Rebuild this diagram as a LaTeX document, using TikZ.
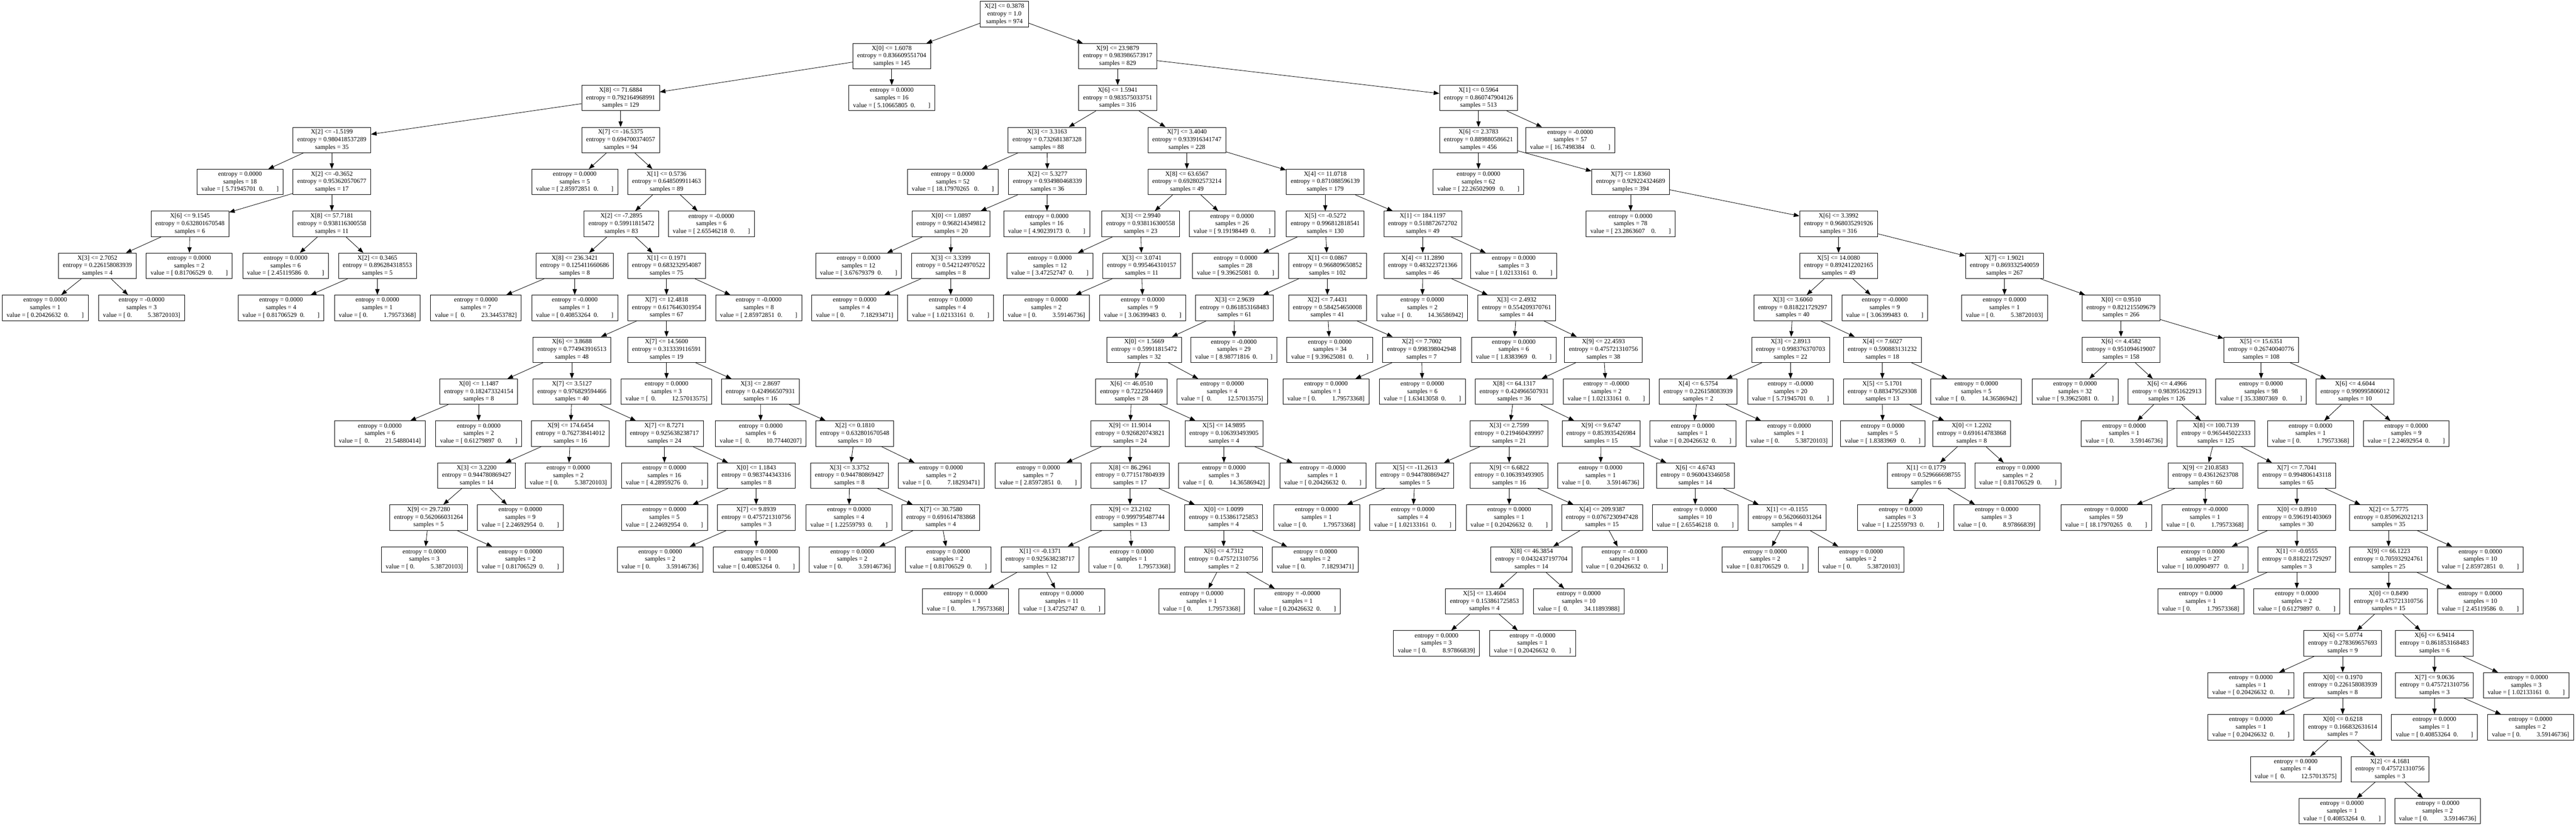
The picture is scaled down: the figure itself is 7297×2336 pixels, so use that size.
\documentclass[tikz,border=0pt]{standalone}
\usepackage{fontspec}
\setmainfont{Liberation Serif}
\usetikzlibrary{arrows.meta}
\tikzset{
  tbox/.style={draw, line width=0.3pt, rectangle, align=center,
    font=\fontsize{4.5pt}{5.35pt}\selectfont, inner xsep=3.1pt, inner ysep=1pt,
    minimum height=18pt},
  tedge/.style={line width=0.3pt, -{Triangle[length=4pt,width=3pt]}}
}
\newcommand\tnode[7]{\node[tbox] (#1) at (#2,{40+118.8*#3}) {X[#4] <= #5\\entropy = #6\\samples = #7};}
\newcommand\tleaf[6]{\node[tbox] (#1) at (#2,{40+118.8*#3}) {entropy = #4\\samples = #5\\value = #6};}
\newcommand\vza[1]{[~#1~~0.~~~~~~~~]}
\newcommand\vzb[1]{[~#1~~~0.~~~~~~~~]}
\newcommand\vzc[1]{[~#1~~~~0.~~~~~~~~]}
\newcommand\voa[1]{[~0.~~~~~~~~~~#1]}
\newcommand\vob[1]{[~~0.~~~~~~~~~~#1]}
\newcommand\tedgeto[2]{\draw[tedge] (#1) -- (#2);}
\begin{document}
\begin{tikzpicture}[x=0.25pt,y=-0.25pt]
\useasboundingbox (0,0) rectangle (7297,2336);
% level 0-5
\tnode{r}{2845}{0}{2}{0.3878}{1.0}{974}
\tnode{a}{2526}{1}{0}{1.6078}{0.836609551704}{145}
\tnode{b}{3166}{1}{9}{23.9879}{0.983986573917}{829}
\tnode{aa}{1758}{2}{8}{71.6884}{0.792164968991}{129}
\tleaf{ab}{2526}{2}{0.0000}{16}{\vza{5.10665805}}
\tnode{ba}{3166}{2}{6}{1.5941}{0.983575033751}{316}
\tnode{bb}{4188}{2}{1}{0.5964}{0.860747904126}{513}
\tnode{aaa}{940}{3}{2}{-1.5199}{0.980418537289}{35}
\tnode{aab}{1758}{3}{7}{-16.5375}{0.694700374057}{94}
\tnode{baa}{2966}{3}{3}{3.3163}{0.732681387328}{88}
\tnode{bab}{3362}{3}{7}{3.4040}{0.933916341747}{228}
\tnode{bba}{4188}{3}{6}{2.3783}{0.889880586621}{456}
\tleaf{bbb}{4448}{3}{-0.0000}{57}{\vzc{16.7498384}}
\tleaf{aaaa}{680}{4}{0.0000}{18}{\vza{5.71945701}}
\tnode{aaab}{940}{4}{2}{-0.3652}{0.953620570677}{17}
\tleaf{aaba}{1628}{4}{0.0000}{5}{\vza{2.85972851}}
\tnode{aabb}{1888}{4}{1}{0.5736}{0.648509911463}{89}
\tleaf{baaa}{2699}{4}{0.0000}{52}{\vzb{18.17970265}}
\tnode{baab}{2967}{4}{2}{5.3277}{0.934980468339}{36}
\tnode{baba}{3362}{4}{8}{63.6567}{0.692802573214}{49}
\tnode{babb}{3754}{4}{4}{11.0718}{0.871088596139}{179}
\tleaf{bbaa}{4188}{4}{0.0000}{62}{\vzb{22.26502909}}
\tnode{bbab}{4619}{4}{7}{1.8360}{0.929224324689}{394}
\tnode{aaaba}{538}{5}{6}{9.1545}{0.632801670548}{6}
\tnode{aaabb}{940}{5}{8}{57.7181}{0.938116300558}{11}
\tnode{aabba}{1760}{5}{2}{-7.2895}{0.59911815472}{83}
\tleaf{aabbb}{2015}{5}{-0.0000}{6}{\vza{2.65546218}}
\tnode{baaba}{2694}{5}{0}{1.0897}{0.968214349812}{20}
\tleaf{baabb}{2965}{5}{0.0000}{16}{\vza{4.90239173}}
\tnode{babaa}{3231}{5}{3}{2.9940}{0.938116300558}{23}
\tleaf{babab}{3490}{5}{0.0000}{26}{\vza{9.19198449}}
\tnode{babba}{3754}{5}{5}{-0.5272}{0.996812818541}{130}
\tnode{babbb}{4030}{5}{1}{184.1197}{0.518872672702}{49}
\tleaf{bbaba}{4619}{5}{0.0000}{78}{\vzc{23.2863607}}
\tnode{bbabb}{5208}{5}{6}{3.3992}{0.968035291926}{316}
% level 6
\tnode{g6a}{276}{6}{3}{2.7052}{0.226158083939}{4}
\tleaf{g6b}{536}{6}{0.0000}{2}{\vza{0.81706529}}
\tleaf{g6c}{809}{6}{0.0000}{6}{\vza{2.45119586}}
\tnode{g6d}{1069}{6}{2}{0.3465}{0.896284318553}{5}
\tnode{g6e}{1628}{6}{8}{236.3421}{0.125411660686}{8}
\tnode{g6f}{1888}{6}{1}{0.1971}{0.683232954087}{75}
\tleaf{g6g}{2432}{6}{0.0000}{12}{\vza{3.67679379}}
\tnode{g6h}{2693}{6}{3}{3.3399}{0.542124970522}{8}
\tleaf{g6i}{2974}{6}{0.0000}{12}{\vza{3.47252747}}
\tnode{g6j}{3234}{6}{3}{3.0741}{0.995464310157}{11}
\tleaf{g6k}{3500}{6}{0.0000}{28}{\vza{9.39625081}}
\tnode{g6l}{3760}{6}{1}{0.0867}{0.966809650852}{102}
\tnode{g6m}{4030}{6}{4}{11.2890}{0.483223721366}{46}
\tleaf{g6n}{4288}{6}{0.0000}{3}{\vza{1.02133161}}
\tnode{g6o}{5208}{6}{5}{14.0080}{0.892412202165}{49}
\tnode{g6p}{5678}{6}{7}{1.9021}{0.869332540059}{267}
% level 7
\tleaf{g7a}{128}{7}{0.0000}{1}{\vza{0.20426632}}
\tleaf{g7b}{401}{7}{-0.0000}{3}{\voa{5.38720103}}
\tleaf{g7c}{796}{7}{0.0000}{4}{\vza{0.81706529}}
\tleaf{g7d}{1069}{7}{0.0000}{1}{\voa{1.79573368}}
\tleaf{g7e}{1348}{7}{0.0000}{7}{\vob{23.34453782}}
\tleaf{g7f}{1628}{7}{-0.0000}{1}{\vza{0.40853264}}
\tnode{g7g}{1888}{7}{7}{12.4818}{0.617646301954}{67}
\tleaf{g7h}{2149}{7}{-0.0000}{8}{\vza{2.85972851}}
\tleaf{g7i}{2421}{7}{0.0000}{4}{\voa{7.18293471}}
\tleaf{g7j}{2693}{7}{0.0000}{4}{\vza{1.02133161}}
\tleaf{g7k}{2964}{7}{0.0000}{2}{\voa{3.59146736}}
\tleaf{g7l}{3237}{7}{0.0000}{9}{\vza{3.06399483}}
\tnode{g7m}{3497}{7}{3}{2.9639}{0.861853168483}{61}
\tnode{g7n}{3760}{7}{2}{7.4431}{0.584254650008}{41}
\tleaf{g7o}{4029}{7}{0.0000}{2}{\vob{14.36586942}}
\tnode{g7p}{4296}{7}{3}{2.4932}{0.554209370761}{44}
\tnode{g7q}{5078}{7}{3}{3.6060}{0.818221729297}{40}
\tleaf{g7r}{5339}{7}{-0.0000}{9}{\vza{3.06399483}}
\tleaf{g7s}{5678}{7}{0.0000}{1}{\voa{5.38720103}}
\tnode{g7t}{6008}{7}{0}{0.9510}{0.821215509679}{266}
% level 8
\tnode{g8a}{1620}{8}{6}{3.8688}{0.774943916513}{48}
\tnode{g8b}{1888}{8}{7}{14.5600}{0.313339116591}{19}
\tnode{g8c}{3241}{8}{0}{1.5669}{0.59911815472}{32}
\tleaf{g8d}{3495}{8}{-0.0000}{29}{\vza{8.98771816}}
\tleaf{g8e}{3767}{8}{0.0000}{34}{\vza{9.39625081}}
\tnode{g8f}{4027}{8}{2}{7.7002}{0.998398042948}{7}
\tleaf{g8g}{4288}{8}{0.0000}{6}{\vzb{1.8383969}}
\tnode{g8h}{4542}{8}{9}{22.4593}{0.475721310756}{38}
\tnode{g8i}{5072}{8}{3}{2.8913}{0.998376370703}{22}
\tnode{g8j}{5332}{8}{4}{7.6027}{0.590883131232}{18}
\tnode{g8k}{6008}{8}{6}{4.4582}{0.951094619007}{158}
\tnode{g8l}{6405}{8}{5}{15.6351}{0.26740040776}{108}
% level 9
\tnode{g9a}{1356}{9}{0}{1.1487}{0.182473324154}{8}
\tnode{g9b}{1620}{9}{7}{3.5127}{0.976829594466}{40}
\tleaf{g9c}{1888}{9}{0.0000}{3}{\vob{12.57013575}}
\tnode{g9d}{2154}{9}{3}{2.8697}{0.424966507931}{16}
\tnode{g9e}{3205}{9}{6}{46.0510}{0.7222504469}{28}
\tleaf{g9f}{3462}{9}{0.0000}{4}{\vob{12.57013575}}
\tleaf{g9g}{3756}{9}{0.0000}{1}{\voa{1.79573368}}
\tleaf{g9h}{4029}{9}{0.0000}{6}{\vza{1.63413058}}
\tnode{g9i}{4289}{9}{8}{64.1317}{0.424966507931}{36}
\tleaf{g9j}{4550}{9}{-0.0000}{2}{\vza{1.02133161}}
\tnode{g9k}{4810}{9}{4}{6.5754}{0.226158083939}{2}
\tleaf{g9l}{5072}{9}{-0.0000}{20}{\vza{5.71945701}}
\tnode{g9m}{5332}{9}{5}{5.1701}{0.883479529308}{13}
\tleaf{g9n}{5598}{9}{0.0000}{5}{\vob{14.36586942}}
\tleaf{g9o}{5878}{9}{0.0000}{32}{\vza{9.39625081}}
\tnode{g9p}{6138}{9}{6}{4.4966}{0.983951622913}{126}
\tleaf{g9q}{6405}{9}{0.0000}{98}{\vzb{35.33807369}}
\tnode{g9r}{6671}{9}{6}{4.6044}{0.990995806012}{10}
% level 10
\tleaf{g10a}{1076}{10}{0.0000}{6}{\vob{21.54880414}}
\tleaf{g10b}{1356}{10}{0.0000}{2}{\vza{0.61279897}}
\tnode{g10c}{1616}{10}{9}{174.6454}{0.762738414012}{16}
\tnode{g10d}{1882}{10}{7}{8.7271}{0.925638238717}{24}
\tleaf{g10e}{2155}{10}{0.0000}{6}{\vob{10.77440207}}
\tnode{g10f}{2421}{10}{2}{0.1810}{0.632801670548}{10}
\tnode{g10g}{3201}{10}{9}{11.9014}{0.926820743821}{24}
\tnode{g10h}{3467}{10}{5}{14.9895}{0.106393493905}{4}
\tnode{g10i}{4275}{10}{3}{2.7599}{0.219460439997}{21}
\tnode{g10j}{4535}{10}{9}{9.6747}{0.853935426984}{15}
\tleaf{g10k}{4795}{10}{0.0000}{1}{\vza{0.20426632}}
\tleaf{g10l}{5068}{10}{0.0000}{1}{\voa{5.38720103}}
\tleaf{g10m}{5333}{10}{0.0000}{5}{\vzb{1.8383969}}
\tnode{g10n}{5585}{10}{0}{1.2202}{0.691614783868}{8}
\tleaf{g10o}{6017}{10}{0.0000}{1}{\voa{3.59146736}}
\tnode{g10p}{6277}{10}{8}{100.7139}{0.965445022333}{125}
\tleaf{g10q}{6545}{10}{0.0000}{1}{\voa{1.79573368}}
\tleaf{g10r}{6816}{10}{0.0000}{9}{\vza{2.24692954}}
% level 11
\tnode{g11a}{1350}{11}{3}{3.2200}{0.944780869427}{14}
\tleaf{g11b}{1610}{11}{0.0000}{2}{\voa{5.38720103}}
\tleaf{g11c}{1882}{11}{0.0000}{16}{\vza{4.28959276}}
\tnode{g11d}{2142}{11}{0}{1.1843}{0.983744343316}{8}
\tnode{g11e}{2406}{11}{3}{3.3752}{0.944780869427}{8}
\tleaf{g11f}{2666}{11}{0.0000}{2}{\voa{7.18293471}}
\tleaf{g11g}{2941}{11}{0.0000}{7}{\vza{2.85972851}}
\tnode{g11h}{3201}{11}{8}{86.2961}{0.771517804939}{17}
\tleaf{g11i}{3467}{11}{0.0000}{3}{\vob{14.36586942}}
\tleaf{g11j}{3747}{11}{-0.0000}{1}{\vza{0.20426632}}
\tnode{g11k}{4008}{11}{5}{-11.2613}{0.944780869427}{5}
\tnode{g11l}{4275}{11}{9}{6.6822}{0.106393493905}{16}
\tleaf{g11m}{4534}{11}{0.0000}{1}{\voa{3.59146736}}
\tnode{g11n}{4802}{11}{6}{4.6743}{0.960043346058}{14}
\tnode{g11o}{5456}{11}{1}{0.1779}{0.529666698755}{6}
\tleaf{g11p}{5716}{11}{0.0000}{2}{\vza{0.81706529}}
\tnode{g11q}{6247}{11}{9}{210.8583}{0.43612623708}{60}
\tnode{g11r}{6506}{11}{7}{7.7041}{0.994806143118}{65}
% level 12
\tnode{g12a}{1214}{12}{9}{29.7280}{0.562066031264}{5}
\tleaf{g12b}{1474}{12}{0.0000}{9}{\vza{2.24692954}}
\tleaf{g12c}{1882}{12}{0.0000}{5}{\vza{2.24692954}}
\tnode{g12d}{2142}{12}{7}{9.8939}{0.475721310756}{3}
\tleaf{g12e}{2405}{12}{0.0000}{4}{\vza{1.22559793}}
\tnode{g12f}{2665}{12}{7}{30.7580}{0.691614783868}{4}
\tnode{g12g}{3201}{12}{9}{23.2102}{0.999795487744}{13}
\tnode{g12h}{3466}{12}{0}{1.0099}{0.153861725853}{4}
\tleaf{g12i}{3730}{12}{0.0000}{1}{\voa{1.79573368}}
\tleaf{g12j}{4002}{12}{0.0000}{4}{\vza{1.02133161}}
\tleaf{g12k}{4275}{12}{0.0000}{1}{\vza{0.20426632}}
\tnode{g12l}{4538}{12}{4}{209.9387}{0.0767230947428}{15}
\tleaf{g12m}{4802}{12}{0.0000}{10}{\vza{2.65546218}}
\tnode{g12n}{5062}{12}{1}{-0.1155}{0.562066031264}{4}
\tleaf{g12o}{5384}{12}{0.0000}{3}{\vza{1.22559793}}
\tleaf{g12p}{5656}{12}{0.0000}{3}{\voa{8.97866839}}
\tleaf{g12q}{5966}{12}{0.0000}{59}{\vzb{18.17970265}}
\tleaf{g12r}{6246}{12}{-0.0000}{1}{\voa{1.79573368}}
\tnode{g12s}{6506}{12}{0}{0.8910}{0.596191403069}{30}
\tnode{g12t}{6766}{12}{2}{5.7775}{0.850962021213}{35}
% level 13
\tleaf{g13a}{1202}{13}{0.0000}{3}{\voa{5.38720103}}
\tleaf{g13b}{1474}{13}{0.0000}{2}{\vza{0.81706529}}
\tleaf{g13c}{1870}{13}{0.0000}{2}{\voa{3.59146736}}
\tleaf{g13d}{2142}{13}{0.0000}{1}{\vza{0.40853264}}
\tleaf{g13e}{2414}{13}{0.0000}{2}{\voa{3.59146736}}
\tleaf{g13f}{2686}{13}{0.0000}{2}{\vza{0.81706529}}
\tnode{g13g}{2946}{13}{1}{-0.1371}{0.925638238717}{12}
\tleaf{g13h}{3206}{13}{0.0000}{1}{\voa{1.79573368}}
\tnode{g13i}{3466}{13}{6}{4.7312}{0.475721310756}{2}
\tleaf{g13j}{3726}{13}{0.0000}{2}{\voa{7.18293471}}
\tnode{g13k}{4338}{13}{8}{46.3854}{0.0432437197704}{14}
\tleaf{g13l}{4602}{13}{-0.0000}{1}{\vza{0.20426632}}
\tleaf{g13m}{5000}{13}{0.0000}{2}{\vza{0.81706529}}
\tleaf{g13n}{5272}{13}{0.0000}{2}{\voa{5.38720103}}
\tleaf{g13o}{6240}{13}{0.0000}{27}{\vzb{10.00904977}}
\tnode{g13p}{6506}{13}{1}{-0.0555}{0.818221729297}{3}
\tnode{g13q}{6766}{13}{9}{66.1223}{0.705932924761}{25}
\tleaf{g13r}{7026}{13}{0.0000}{10}{\vza{2.85972851}}
% level 14
\tleaf{g14a}{2735}{14}{0.0000}{1}{\voa{1.79573368}}
\tleaf{g14b}{3008}{14}{0.0000}{11}{\vza{3.47252747}}
\tleaf{g14c}{3404}{14}{0.0000}{1}{\voa{1.79573368}}
\tleaf{g14d}{3675}{14}{-0.0000}{1}{\vza{0.20426632}}
\tnode{g14e}{4205}{14}{5}{13.4604}{0.153861725853}{4}
\tleaf{g14f}{4472}{14}{0.0000}{10}{\vob{34.11893988}}
\tleaf{g14g}{6234}{14}{0.0000}{1}{\voa{1.79573368}}
\tleaf{g14h}{6506}{14}{0.0000}{2}{\vza{0.61279897}}
\tnode{g14i}{6766}{14}{0}{0.8490}{0.475721310756}{15}
\tleaf{g14j}{7026}{14}{0.0000}{10}{\vza{2.45119586}}
% level 15-19
\tleaf{g15a}{4069}{15}{0.0000}{3}{\voa{8.97866839}}
\tleaf{g15b}{4341}{15}{-0.0000}{1}{\vza{0.20426632}}
\tnode{g15c}{6636}{15}{6}{5.0774}{0.278369657693}{9}
\tnode{g15d}{6896}{15}{6}{6.9414}{0.861853168483}{6}
\tleaf{g16a}{6376}{16}{0.0000}{1}{\vza{0.20426632}}
\tnode{g16b}{6636}{16}{0}{0.1970}{0.226158083939}{8}
\tnode{g16c}{6896}{16}{7}{9.0636}{0.475721310756}{3}
\tleaf{g16d}{7156}{16}{0.0000}{3}{\vza{1.02133161}}
\tleaf{g17a}{6376}{17}{0.0000}{1}{\vza{0.20426632}}
\tnode{g17b}{6636}{17}{0}{0.6218}{0.166832631614}{7}
\tleaf{g17c}{6896}{17}{0.0000}{1}{\vza{0.40853264}}
\tleaf{g17d}{7168}{17}{0.0000}{2}{\voa{3.59146736}}
\tleaf{g18a}{6503}{18}{0.0000}{4}{\vob{12.57013575}}
\tnode{g18b}{6770}{18}{2}{4.1681}{0.475721310756}{3}
\tleaf{g19a}{6634}{19}{0.0000}{1}{\vza{0.40853264}}
\tleaf{g19b}{6905}{19}{0.0000}{2}{\voa{3.59146736}}
% edges
\tedgeto{r}{a}\tedgeto{r}{b}
\tedgeto{a}{aa}\tedgeto{a}{ab}
\tedgeto{b}{ba}\tedgeto{b}{bb}
\tedgeto{aa}{aaa}\tedgeto{aa}{aab}
\tedgeto{ba}{baa}\tedgeto{ba}{bab}
\tedgeto{bb}{bba}\tedgeto{bb}{bbb}
\tedgeto{aaa}{aaaa}\tedgeto{aaa}{aaab}
\tedgeto{aab}{aaba}\tedgeto{aab}{aabb}
\tedgeto{baa}{baaa}\tedgeto{baa}{baab}
\tedgeto{bab}{baba}\tedgeto{bab}{babb}
\tedgeto{bba}{bbaa}\tedgeto{bba}{bbab}
\tedgeto{aaab}{aaaba}\tedgeto{aaab}{aaabb}
\tedgeto{aabb}{aabba}\tedgeto{aabb}{aabbb}
\tedgeto{baab}{baaba}\tedgeto{baab}{baabb}
\tedgeto{baba}{babaa}\tedgeto{baba}{babab}
\tedgeto{babb}{babba}\tedgeto{babb}{babbb}
\tedgeto{bbab}{bbaba}\tedgeto{bbab}{bbabb}
\tedgeto{aaaba}{g6a}\tedgeto{aaaba}{g6b}
\tedgeto{aaabb}{g6c}\tedgeto{aaabb}{g6d}
\tedgeto{aabba}{g6e}\tedgeto{aabba}{g6f}
\tedgeto{baaba}{g6g}\tedgeto{baaba}{g6h}
\tedgeto{babaa}{g6i}\tedgeto{babaa}{g6j}
\tedgeto{babba}{g6k}\tedgeto{babba}{g6l}
\tedgeto{babbb}{g6m}\tedgeto{babbb}{g6n}
\tedgeto{bbabb}{g6o}\tedgeto{bbabb}{g6p}
\tedgeto{g6a}{g7a}\tedgeto{g6a}{g7b}
\tedgeto{g6d}{g7c}\tedgeto{g6d}{g7d}
\tedgeto{g6e}{g7e}\tedgeto{g6e}{g7f}
\tedgeto{g6f}{g7g}\tedgeto{g6f}{g7h}
\tedgeto{g6h}{g7i}\tedgeto{g6h}{g7j}
\tedgeto{g6j}{g7k}\tedgeto{g6j}{g7l}
\tedgeto{g6l}{g7m}\tedgeto{g6l}{g7n}
\tedgeto{g6m}{g7o}\tedgeto{g6m}{g7p}
\tedgeto{g6o}{g7q}\tedgeto{g6o}{g7r}
\tedgeto{g6p}{g7s}\tedgeto{g6p}{g7t}
\tedgeto{g7g}{g8a}\tedgeto{g7g}{g8b}
\tedgeto{g7m}{g8c}\tedgeto{g7m}{g8d}
\tedgeto{g7n}{g8e}\tedgeto{g7n}{g8f}
\tedgeto{g7p}{g8g}\tedgeto{g7p}{g8h}
\tedgeto{g7q}{g8i}\tedgeto{g7q}{g8j}
\tedgeto{g7t}{g8k}\tedgeto{g7t}{g8l}
\tedgeto{g8a}{g9a}\tedgeto{g8a}{g9b}
\tedgeto{g8b}{g9c}\tedgeto{g8b}{g9d}
\tedgeto{g8c}{g9e}\tedgeto{g8c}{g9f}
\tedgeto{g8f}{g9g}\tedgeto{g8f}{g9h}
\tedgeto{g8h}{g9i}\tedgeto{g8h}{g9j}
\tedgeto{g8i}{g9k}\tedgeto{g8i}{g9l}
\tedgeto{g8j}{g9m}\tedgeto{g8j}{g9n}
\tedgeto{g8k}{g9o}\tedgeto{g8k}{g9p}
\tedgeto{g8l}{g9q}\tedgeto{g8l}{g9r}
\tedgeto{g9a}{g10a}\tedgeto{g9a}{g10b}
\tedgeto{g9b}{g10c}\tedgeto{g9b}{g10d}
\tedgeto{g9d}{g10e}\tedgeto{g9d}{g10f}
\tedgeto{g9e}{g10g}\tedgeto{g9e}{g10h}
\tedgeto{g9i}{g10i}\tedgeto{g9i}{g10j}
\tedgeto{g9k}{g10k}\tedgeto{g9k}{g10l}
\tedgeto{g9m}{g10m}\tedgeto{g9m}{g10n}
\tedgeto{g9p}{g10o}\tedgeto{g9p}{g10p}
\tedgeto{g9r}{g10q}\tedgeto{g9r}{g10r}
\tedgeto{g10c}{g11a}\tedgeto{g10c}{g11b}
\tedgeto{g10d}{g11c}\tedgeto{g10d}{g11d}
\tedgeto{g10f}{g11e}\tedgeto{g10f}{g11f}
\tedgeto{g10g}{g11g}\tedgeto{g10g}{g11h}
\tedgeto{g10h}{g11i}\tedgeto{g10h}{g11j}
\tedgeto{g10i}{g11k}\tedgeto{g10i}{g11l}
\tedgeto{g10j}{g11m}\tedgeto{g10j}{g11n}
\tedgeto{g10n}{g11o}\tedgeto{g10n}{g11p}
\tedgeto{g10p}{g11q}\tedgeto{g10p}{g11r}
\tedgeto{g11a}{g12a}\tedgeto{g11a}{g12b}
\tedgeto{g11d}{g12c}\tedgeto{g11d}{g12d}
\tedgeto{g11e}{g12e}\tedgeto{g11e}{g12f}
\tedgeto{g11h}{g12g}\tedgeto{g11h}{g12h}
\tedgeto{g11k}{g12i}\tedgeto{g11k}{g12j}
\tedgeto{g11l}{g12k}\tedgeto{g11l}{g12l}
\tedgeto{g11n}{g12m}\tedgeto{g11n}{g12n}
\tedgeto{g11o}{g12o}\tedgeto{g11o}{g12p}
\tedgeto{g11q}{g12q}\tedgeto{g11q}{g12r}
\tedgeto{g11r}{g12s}\tedgeto{g11r}{g12t}
\tedgeto{g12a}{g13a}\tedgeto{g12a}{g13b}
\tedgeto{g12d}{g13c}\tedgeto{g12d}{g13d}
\tedgeto{g12f}{g13e}\tedgeto{g12f}{g13f}
\tedgeto{g12g}{g13g}\tedgeto{g12g}{g13h}
\tedgeto{g12h}{g13i}\tedgeto{g12h}{g13j}
\tedgeto{g12l}{g13k}\tedgeto{g12l}{g13l}
\tedgeto{g12n}{g13m}\tedgeto{g12n}{g13n}
\tedgeto{g12s}{g13o}\tedgeto{g12s}{g13p}
\tedgeto{g12t}{g13q}\tedgeto{g12t}{g13r}
\tedgeto{g13g}{g14a}\tedgeto{g13g}{g14b}
\tedgeto{g13i}{g14c}\tedgeto{g13i}{g14d}
\tedgeto{g13k}{g14e}\tedgeto{g13k}{g14f}
\tedgeto{g13p}{g14g}\tedgeto{g13p}{g14h}
\tedgeto{g13q}{g14i}\tedgeto{g13q}{g14j}
\tedgeto{g14e}{g15a}\tedgeto{g14e}{g15b}
\tedgeto{g14i}{g15c}\tedgeto{g14i}{g15d}
\tedgeto{g15c}{g16a}\tedgeto{g15c}{g16b}
\tedgeto{g15d}{g16c}\tedgeto{g15d}{g16d}
\tedgeto{g16b}{g17a}\tedgeto{g16b}{g17b}
\tedgeto{g16c}{g17c}\tedgeto{g16c}{g17d}
\tedgeto{g17b}{g18a}\tedgeto{g17b}{g18b}
\tedgeto{g18b}{g19a}\tedgeto{g18b}{g19b}
\end{tikzpicture}
\end{document}
